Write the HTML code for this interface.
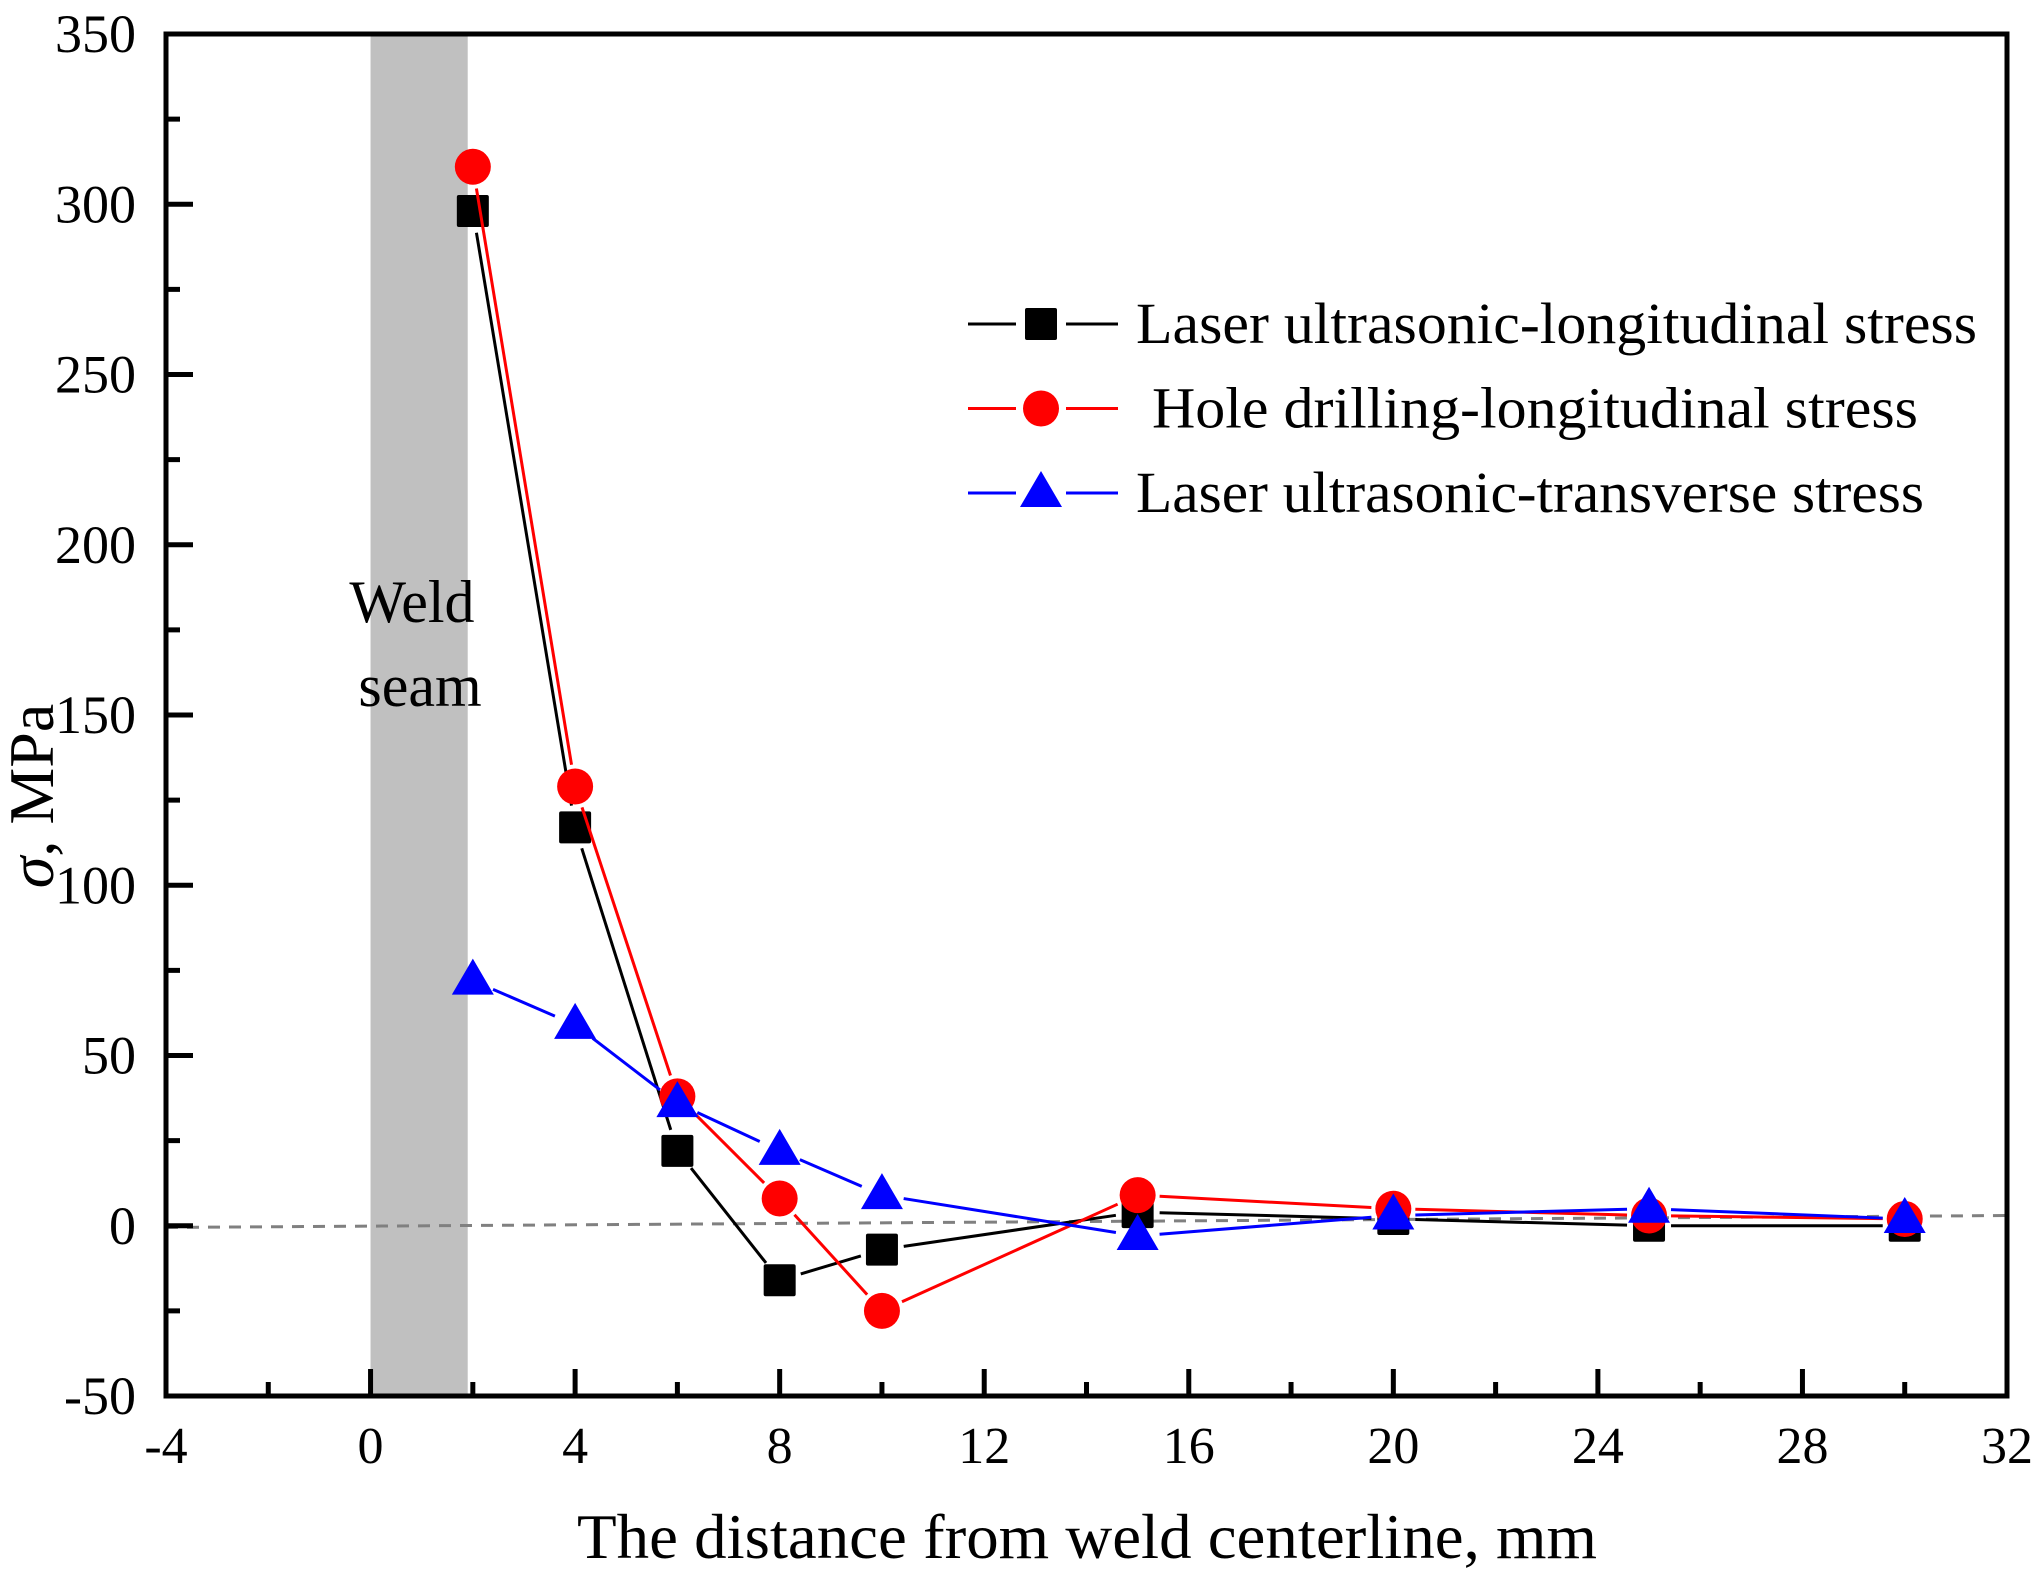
<!DOCTYPE html>
<html><head><meta charset="utf-8"><style>
html,body{margin:0;padding:0;background:#fff;}
svg{display:block;}
text{font-family:"Liberation Serif","Times New Roman",serif;}
</style></head><body>
<svg id="chart" width="2043" height="1586" viewBox="0 0 2043 1586" font-family="Liberation Serif, serif">
<g id="plot"></g>
</svg>
<script>
const xValues=[2,4,6,8,10,15,20,25,30];
const laserLong=[298,117,22,-16,-7,4,2,0,0];
const holeLong=[311,129,38,8,-25,9,5,3,2];
const laserTrans=[72,59,36,22,9,-3,3,5,2];
const xTicks=[-4,0,4,8,12,16,20,24,28,32];
const yTicks=[-50,0,50,100,150,200,250,300,350];
const refLineX=[-4,32];
const refLineY=[-0.5,3];

const L=166,R=2007,T=34,B=1396;
const X=v=>L+(v+4)/36*(R-L);
const Y=v=>B-(v+50)/400*(B-T);
const NS='http://www.w3.org/2000/svg';
const g=document.getElementById('plot');
function mk(tag,attrs,parent){const e=document.createElementNS(NS,tag);for(const k in attrs)e.setAttribute(k,attrs[k]);if(tag==='text')e.setAttribute('font-family','Liberation Serif, serif');(parent||g).appendChild(e);return e;}

let band=mk('rect',{x:X(0),y:T,width:X(1.9)-X(0),height:B-T,fill:'#c0c0c0'});


let t1=mk('text',{x:412,y:622,'font-size':60,'text-anchor':'middle'});t1.textContent='Weld';


let t2=mk('text',{x:420,y:706,'font-size':60,'text-anchor':'middle'});t2.textContent='seam';



let rl=mk('line',{x1:X(refLineX[0]),y1:Y(refLineY[0]),x2:X(refLineX[1]),y2:Y(refLineY[1]),stroke:'#808080','stroke-width':3,'stroke-dasharray':'12 9'});



function series(vals,color,marker,name){
  const sg=mk('g',{});
  
  
  const pts=xValues.map((x,i)=>[X(x),Y(vals[i])]);
  for(let i=0;i<pts.length-1;i++){
    const [x1,y1]=pts[i],[x2,y2]=pts[i+1];
    const d=Math.hypot(x2-x1,y2-y1),gap=22;
    if(d<=2*gap)continue;
    const ux=(x2-x1)/d,uy=(y2-y1)/d;
    const s=mk('line',{x1:x1+ux*gap,y1:y1+uy*gap,x2:x2-ux*gap,y2:y2-uy*gap,stroke:color,'stroke-width':3},sg);
    
    
  }
  pts.forEach(([x,y])=>{const m=drawMarker(marker,x,y,color,sg);
    
    });
}
function drawMarker(type,x,y,color,parent){
  if(type==='square')return mk('rect',{x:x-16,y:y-16,width:32,height:32,rx:2,fill:color},parent);
  if(type==='circle')return mk('circle',{cx:x,cy:y,r:18,fill:color},parent);
  return mk('polygon',{points:`${x},${y-22} ${x-21},${y+14} ${x+21},${y+14}`,fill:color},parent);
}
series(laserLong,'#000','square','laser-longitudinal-series');
series(holeLong,'#ff0000','circle','hole-drilling-series');
series(laserTrans,'#0000ff','triangle','laser-transverse-series');

let fr=mk('path',{d:`M${L} ${T}H${R}V${B}H${L}Z`,fill:'none',stroke:'#000','stroke-width':5});


for(let v=-4;v<=32;v+=2){
  const maj=xTicks.includes(v);
  const tk=mk('line',{x1:X(v),x2:X(v),y1:B,y2:B-(maj?27:14),stroke:'#000','stroke-width':5});
  
  
}
xTicks.forEach(v=>{const t=mk('text',{x:X(v),y:1463,'font-size':52,'text-anchor':'middle'});t.textContent=v;
  
  });
for(let v=-50;v<=350;v+=25){
  const maj=yTicks.includes(v);
  const tk=mk('line',{x1:L,x2:L+(maj?27:14),y1:Y(v),y2:Y(v),stroke:'#000','stroke-width':5});
  
  
}
yTicks.forEach(v=>{const t=mk('text',{x:136,y:Y(v)+18,'font-size':54,'text-anchor':'end'});t.textContent=v;
  
  });

let xt=mk('text',{x:577,y:1558,'font-size':64,textLength:1020,lengthAdjust:'spacingAndGlyphs'});
xt.textContent='The distance from weld centerline, mm';


let yt=mk('text',{x:0,y:0,'font-size':64,'text-anchor':'middle',transform:'translate(53,796) rotate(-90)'});
yt.innerHTML='<tspan font-style="italic">σ</tspan>, MPa';



const legNames=['Laser ultrasonic-longitudinal stress',' Hole drilling-longitudinal stress','Laser ultrasonic-transverse stress'];
const legColors=['#000','#ff0000','#0000ff'];
const legMarkers=['square','circle','triangle'];
const legEnd=[1977,1918,1924];
legNames.forEach((n,i)=>{
  const cy=324+i*84.5;
  const lg=mk('g',{});
  
  
  mk('line',{x1:968,x2:1016,y1:cy,y2:cy,stroke:legColors[i],'stroke-width':3},lg);
  mk('line',{x1:1066,x2:1118,y1:cy,y2:cy,stroke:legColors[i],'stroke-width':3},lg);
  drawMarker(legMarkers[i],1041,cy,legColors[i],lg);
  const sx=i===1?1152:1136;
  const t=mk('text',{x:sx,y:cy+19,'font-size':58,textLength:legEnd[i]-sx,lengthAdjust:'spacingAndGlyphs'},lg);
  t.textContent=n.trim();
});
</script>
</body></html>
